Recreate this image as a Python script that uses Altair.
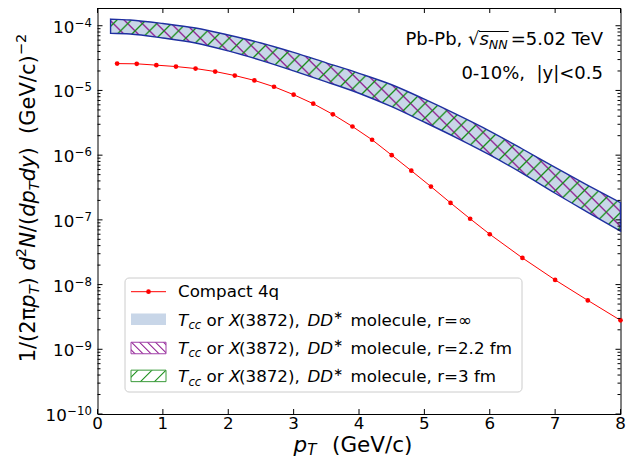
import math
import altair as alt
import pandas as pd

# ---------------- data ----------------
pt_4q = [0.3, 0.6, 0.9, 1.2, 1.5, 1.8, 2.1, 2.4, 2.7, 3.0, 3.3, 3.6, 3.9, 4.2,
         4.5, 4.8, 5.1, 5.4, 5.7, 6.0, 6.5, 7.0, 7.5, 8.0]
yield_4q = [2.60e-5, 2.58e-5, 2.46e-5, 2.34e-5, 2.18e-5, 1.96e-5, 1.70e-5, 1.43e-5,
            1.14e-5, 8.6e-6, 6.24e-6, 4.27e-6, 2.77e-6, 1.73e-6, 1.0e-6, 5.75e-7,
            3.27e-7, 1.83e-7, 1.04e-7, 6.0e-8, 2.58e-8, 1.18e-8, 5.7e-9, 2.8e-9]

pt_band = [0.2, 0.5, 1.0, 1.5, 2.0, 2.5, 3.0, 3.5, 4.0, 4.5, 5.0, 5.5, 6.0, 6.5, 7.0, 7.5, 8.0]
band_upper = [1.267e-4, 1.224e-4, 1.081e-4, 9.22e-5, 7.20e-5, 5.42e-5, 3.87e-5, 2.67e-5,
              1.84e-5, 1.225e-5, 7.33e-6, 4.23e-6, 2.36e-6, 1.245e-6, 6.47e-7, 3.42e-7, 1.84e-7]
band_lower = [7.64e-5, 7.45e-5, 6.47e-5, 5.42e-5, 4.08e-5, 2.92e-5, 2.01e-5, 1.36e-5,
              9.06e-6, 5.61e-6, 3.24e-6, 1.84e-6, 1.01e-6, 5.22e-7, 2.58e-7, 1.31e-7, 6.70e-8]

x_ticks = [0, 1, 2, 3, 4, 5, 6, 7, 8]
x_tick_labels = ["0", "1", "2", "3", "4", "5", "6", "7", "8"]
y_major = [1e-4, 1e-5, 1e-6, 1e-7, 1e-8, 1e-9, 1e-10]
y_exponents = ["\u22124", "\u22125", "\u22126", "\u22127", "\u22128", "\u22129", "\u221210"]
Y_TOP = 1.88e-4
y_minor = [k * 10.0 ** e for e in range(-10, -3) for k in range(2, 10) if k * 10.0 ** e < Y_TOP]

legend_tails = ["molecule, r=\u221e", "molecule, r=2.2 fm", "molecule, r=3 fm"]

# ---------------- layout ----------------
W, H = 523, 406
PL, PT = 97.5, 8.0          # page position of plot origin
FONT = "DejaVu Sans"
ONE = pd.DataFrame({"a": [0]})


def px(x):
    return x - PL


def py(y):
    return y - PT


xs = alt.Scale(domain=[0, 8], nice=False, zero=False)
ys = alt.Scale(type="log", domain=[1e-10, Y_TOP], nice=False)

EM = {'0': .636, '1': .636, '2': .636, '3': .636, '4': .636, '5': .636, '6': .636, '7': .636,
      '8': .636, '9': .636, ' ': .318, '\u00a0': .318, '(': .390, ')': .390, '/': .337,
      '\u03c0': .602, 'p': .635, 'd': .635, 'N': .748, 'T': .611, 'y': .592, 'G': .775,
      'e': .615, 'V': .684, 'c': .550, '\u2212': .838, 'P': .603, 'b': .635, '-': .361,
      ',': .318, 's': .521, '=': .838, '.': .318, '\u221a': .636}


def tw(s, size):
    return sum(EM.get(ch, .6) for ch in s) * size


def txt(s, x, y, size=16.7, italic=False, align="left", angle=0, color="black"):
    kw = dict(text=s, fontSize=size, align=align, baseline="alphabetic", color=color, font=FONT)
    if italic:
        kw["fontStyle"] = "italic"
    if angle:
        kw["angle"] = angle
    return alt.Chart(ONE).mark_text(**kw).encode(x=alt.value(px(x)), y=alt.value(py(y)))


def hatch(w, h, period, hw, rgb, direction):
    L = w + h
    s = L / (w * w + h * h)
    if direction == "/":
        g = dict(x1=0, y1=0, x2=s * w, y2=s * h)
    else:
        g = dict(x1=0, y1=1, x2=s * w, y2=1 - s * h)
    col = "rgba(%d,%d,%d,1)" % rgb
    clear = "rgba(%d,%d,%d,0)" % rgb
    stops = [dict(offset=0, color=clear)]
    k = 0
    while True:
        c = (k + 0.5) * period
        if c + hw >= L:
            break
        stops += [dict(offset=(c - hw) / L, color=clear), dict(offset=c / L, color=col),
                  dict(offset=(c + hw) / L, color=clear)]
        k += 1
    stops.append(dict(offset=1, color=clear))
    return dict(gradient="linear", stops=stops, **g)


PURPLE = (140, 20, 140)
GREEN = (20, 140, 20)
EDGE = "#1f2fa0"
FILL = "#c8d6e8"

layers = []

# ---------------- band ----------------
band_df = pd.DataFrame({"pt": pt_band, "upper": band_upper, "lower": band_lower})
per_dec = H / (math.log10(Y_TOP) + 10)
bw = (pt_band[-1] - pt_band[0]) / 8 * W
bh = (math.log10(max(band_upper)) - math.log10(min(band_lower))) * per_dec

enc = dict(x=alt.X("pt:Q", scale=xs, axis=None),
           y=alt.Y("upper:Q", scale=ys, axis=None),
           y2="lower:Q")
layers.append(alt.Chart(band_df).mark_area(fill=FILL, interpolate="monotone").encode(**enc))
layers.append(alt.Chart(band_df).mark_area(fill=hatch(bw, bh, 14.5, 1.8, PURPLE, "\\"),
                                           interpolate="monotone").encode(**enc))
layers.append(alt.Chart(band_df).mark_area(fill=hatch(bw, bh, 14.5, 1.8, GREEN, "/"),
                                           interpolate="monotone").encode(**enc))
layers.append(alt.Chart(band_df).mark_area(fillOpacity=0, stroke=EDGE, strokeWidth=1.4,
                                           interpolate="monotone").encode(**enc))

# ---------------- compact 4q ----------------
q_df = pd.DataFrame({"pt": pt_4q, "y": yield_4q})
qenc = dict(x=alt.X("pt:Q", scale=xs, axis=None), y=alt.Y("y:Q", scale=ys, axis=None))
layers.append(alt.Chart(q_df).mark_line(color="red", strokeWidth=1).encode(**qenc))
layers.append(alt.Chart(q_df).mark_circle(color="red", size=22, opacity=1).encode(**qenc))

# ---------------- inward ticks ----------------
xt_df = pd.DataFrame({"v": x_ticks, "label": x_tick_labels})
ymaj_df = pd.DataFrame({"v": y_major, "exp": y_exponents})
ymin_df = pd.DataFrame({"v": y_minor})
for (y0, y1) in [(H, H - 5), (0, 5)]:
    layers.append(alt.Chart(xt_df).mark_rule(color="black", strokeWidth=1).encode(
        x=alt.X("v:Q", scale=xs, axis=None), y=alt.value(y0), y2=alt.value(y1)))
for df, ln in [(ymaj_df, 5), (ymin_df, 3)]:
    for (x0, x1) in [(0, ln), (W, W - ln)]:
        layers.append(alt.Chart(df).mark_rule(color="black", strokeWidth=1).encode(
            y=alt.Y("v:Q", scale=ys, axis=None), x=alt.value(x0), x2=alt.value(x1)))

# ---------------- tick labels ----------------
layers.append(alt.Chart(xt_df).mark_text(fontSize=16.7, font=FONT, baseline="alphabetic",
                                         align="center", color="black").encode(
    x=alt.X("v:Q", scale=xs, axis=None), y=alt.value(py(428.5)), text="label:N"))

EXP_R = 92.0
e2 = tw("\u22124", 11.7)
e3 = tw("\u221210", 11.7)
short = alt.Chart(ymaj_df).transform_filter(alt.datum.v > 5e-10)
long_ = alt.Chart(ymaj_df).transform_filter(alt.datum.v < 5e-10)
layers.append(short.mark_text(text="10", fontSize=16.7, font=FONT, align="right",
                              baseline="alphabetic", dy=7, color="black").encode(
    y=alt.Y("v:Q", scale=ys, axis=None), x=alt.value(px(EXP_R - e2 - 0.5))))
layers.append(long_.mark_text(text="10", fontSize=16.7, font=FONT, align="right",
                              baseline="alphabetic", dy=7, color="black").encode(
    y=alt.Y("v:Q", scale=ys, axis=None), x=alt.value(px(EXP_R - e3 - 0.5))))
layers.append(alt.Chart(ymaj_df).mark_text(fontSize=11.7, font=FONT, align="right",
                                           baseline="alphabetic", dy=1, color="black").encode(
    y=alt.Y("v:Q", scale=ys, axis=None), x=alt.value(px(EXP_R)), text="exp:N"))

# ---------------- axis titles ----------------
XT = 21.5
XB0 = 293.5
XBL = 452
layers.append(txt("p", XB0, XBL, XT, italic=True))
layers.append(txt("T", XB0 + tw("p", XT), XBL + 3, 0.7 * XT, italic=True))
layers.append(txt("(GeV/c)", XB0 + tw("p", XT) + tw("T", 0.7 * XT) + tw("  ", XT) + 2, XBL, XT))

YT = 21
ypieces = [("1/(2\u03c0", 1, False, 0), ("p", 1, True, 0), ("T", .7, True, .2),
           (")\u00a0", 1, False, 0), ("d", 1, True, 0), ("2", .7, False, -.42),
           ("N", 1, True, 0), ("/(", 1, False, 0), ("dp", 1, True, 0), ("T", .7, True, .2),
           ("dy", 1, True, 0), (")\u00a0\u00a0(GeV/c)", 1, False, 0), ("\u22122", .7, False, -.42)]
total = sum(tw(s, f * YT) for s, f, _, _ in ypieces)
ycur = 198 + total / 2
XB = 34.5
for s, f, it, sh in ypieces:
    layers.append(txt(s, XB + sh * YT, ycur, f * YT, italic=it, angle=270))
    ycur -= tw(s, f * YT)

# ---------------- annotations ----------------
AF = 18
a0 = 405.5
a_sq = a0 + tw("Pb-Pb, ", AF)
a_s = a_sq + tw("\u221a", AF)
a_nn = a_s + tw("s", AF)
a_end = a_nn + tw("NN", 0.7 * AF)
layers.append(txt("Pb-Pb,", a0, 45, AF))
layers.append(txt("\u221a", a_sq, 45, AF))
layers.append(txt("s", a_s, 45, AF, italic=True))
layers.append(txt("NN", a_nn, 49, 0.7 * AF, italic=True))
layers.append(alt.Chart(ONE).mark_rule(color="black", strokeWidth=1).encode(
    x=alt.value(px(a_s - 0.5)), x2=alt.value(px(a_end + 1)), y=alt.value(py(31.5))))
layers.append(txt("=5.02 TeV", 603, 45, AF, align="right"))
layers.append(txt("0-10%,\u00a0\u00a0|y|<0.5", 603, 78.5, AF, align="right"))

# ---------------- legend ----------------
layers.append(alt.Chart(ONE).mark_rect(fill="white", fillOpacity=0.8, stroke="#cccccc",
                                       strokeWidth=1, cornerRadius=4).encode(
    x=alt.value(px(125)), x2=alt.value(px(522)), y=alt.value(py(278)), y2=alt.value(py(392))))
layers.append(alt.Chart(ONE).mark_rule(color="red", strokeWidth=1).encode(
    x=alt.value(px(131)), x2=alt.value(px(166)), y=alt.value(py(291.7))))
layers.append(alt.Chart(ONE).mark_circle(color="red", size=22, opacity=1).encode(
    x=alt.value(px(148.5)), y=alt.value(py(291.7))))
rows = [319.3, 348.0, 375.9]
lw, lh = 35, 11.5
layers.append(alt.Chart(ONE).mark_rect(fill=FILL).encode(
    x=alt.value(px(131)), x2=alt.value(px(166)),
    y=alt.value(py(rows[0] - lh / 2)), y2=alt.value(py(rows[0] + lh / 2))))
layers.append(alt.Chart(ONE).mark_rect(fill=hatch(lw, lh, 8, 1.4, PURPLE, "\\"),
                                       stroke="#a040a8", strokeWidth=1).encode(
    x=alt.value(px(131)), x2=alt.value(px(166)),
    y=alt.value(py(rows[1] - lh / 2)), y2=alt.value(py(rows[1] + lh / 2))))
layers.append(alt.Chart(ONE).mark_rect(fill=hatch(lw, lh, 14, 1.4, GREEN, "/"),
                                       stroke="#3a9a3a", strokeWidth=1).encode(
    x=alt.value(px(131)), x2=alt.value(px(166)),
    y=alt.value(py(rows[2] - lh / 2)), y2=alt.value(py(rows[2] + lh / 2))))

LF = 16.7
layers.append(txt("Compact 4q", 178, 297.2, LF))
for b, tail in zip([325.5, 353.9, 382.2], legend_tails):
    layers.append(txt("T", 178, b, LF, italic=True))
    layers.append(txt("cc", 188.4, b + 3.3, 11.7, italic=True))
    layers.append(txt("or", 206.6, b, LF))
    layers.append(txt("X", 228.9, b, LF, italic=True))
    layers.append(txt("(3872),", 239.0, b, LF))
    layers.append(txt("DD", 307.5, b, LF, italic=True))
    layers.append(txt("\u2217", 333.5, b - 6.5, 11.7))
    layers.append(txt(tail, 350.5, b, LF))

chart = alt.layer(*layers).properties(
    width=W, height=H,
    autosize=alt.AutoSizeParams(type="none"),
    padding={"left": PL - 8, "top": PT - 8, "right": 7, "bottom": 45},
).configure_view(stroke="black", strokeWidth=1)

chart.save("out.html", embed_options={"renderer": "svg", "actions": False})
